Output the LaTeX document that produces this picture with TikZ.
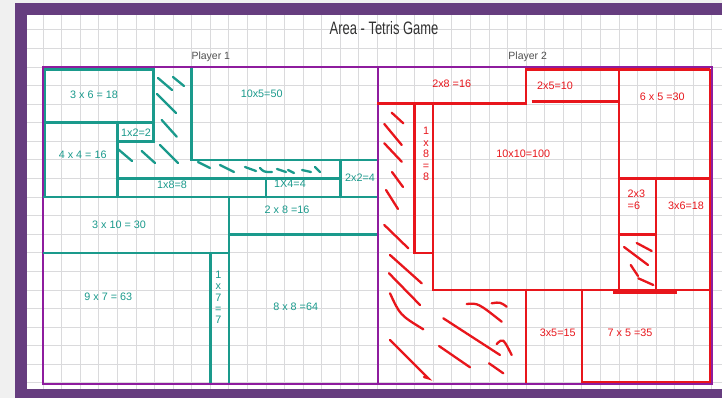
\documentclass[tikz,border=0pt]{standalone}
\usepackage{fontspec}
\setmainfont{Liberation Sans}
\definecolor{bggray}{RGB}{240,240,240}
\definecolor{framepurple}{RGB}{102,61,127}
\definecolor{gridgray}{RGB}{218,218,220}
\definecolor{boardpurple}{RGB}{142,28,158}
\definecolor{tealc}{RGB}{26,154,140}
\definecolor{redc}{RGB}{232,22,28}
\definecolor{titlegray}{RGB}{50,50,50}
\begin{document}
\begin{tikzpicture}[x=1pt,y=-1pt,
  tl/.style={draw=tealc,line width=2.6pt},
  rl/.style={draw=redc,line width=2.6pt},
  th/.style={draw=tealc,line width=2.3pt,line cap=round},
  rh/.style={draw=redc,line width=2.3pt,line cap=round},
  tlab/.style={text=tealc,font=\fontsize{10.8}{11.3}\selectfont,inner sep=0pt},
  rlab/.style={text=redc,font=\fontsize{10.8}{11.4}\selectfont,inner sep=0pt},
  plab/.style={text=titlegray!85,font=\fontsize{10.5}{12}\selectfont,inner sep=0pt}]
\useasboundingbox (0,0) rectangle (722,398);
\fill[bggray] (0,0) rectangle (722,398);
\fill[white] (15,3) rectangle (722,398);
\begin{scope}
\clip (27,15) rectangle (722,389);
\foreach \k in {-1,...,36} \draw[gridgray,line width=0.8pt] ({43+18.58*\k},15) -- ({43+18.58*\k},389);
\foreach \k in {-3,...,17} \draw[gridgray,line width=0.8pt] (27,{67+18.58*\k}) -- (722,{67+18.58*\k});
\end{scope}
\fill[framepurple] (15,3) rectangle (722,15);
\fill[framepurple] (15,3) rectangle (27,398);
\fill[framepurple] (15,389) rectangle (722,398);
% board
\draw[boardpurple,line width=2pt] (43,67) rectangle (712,384);
\draw[boardpurple,line width=2pt] (377.8,67) -- (377.8,384);
% titles
\node[text=titlegray,inner sep=0pt] (title) at (384,28) {\scalebox{0.72}[1]{\fontsize{18}{20}\selectfont Area - Tetris Game}};
\node[plab] (p1) at (210.8,57) {Player 1};
\node[plab] (p2) at (527.7,57) {Player 2};
% grid-unit scope
\begin{scope}[shift={(43,67)},x=18.58pt,y=-18.58pt]
% player 1 (teal)
\draw[tl] (0.1,0.12) rectangle (5.95,3);
\draw[tl] (0.1,3) rectangle (4,7);
\draw[tl] (4,3) rectangle (5.95,4);
\draw[tl] (8,0.05) -- (8,5) -- (18,5);
\draw[tl] (4,6) -- (16,6);
\draw[tl] (12,6) -- (12,7);
\draw[tl] (16,5) -- (16,7);
\draw[tl] (0,7) -- (18,7);
\draw[tl] (10,9) -- (18,9);
\draw[tl] (0,10) -- (10,10);
\draw[tl] (10,7) -- (10,17);
\draw[tl] (9,10) -- (9,17);
% player 2 (red)
\draw[rl] (18,1.95) -- (26,1.95) -- (26,0.12) -- (35.9,0.12);
\draw[rl] (26.3,1.85) -- (31,1.85);
\draw[rl] (31,0.12) -- (31,12);
\draw[rl] (35.9,0.12) -- (35.9,16.95) -- (29,16.95);
\draw[rl] (31,6) -- (35.9,6);
\draw[rl] (20,1.95) -- (20,10) -- (21,10);
\draw[rl] (21,1.95) -- (21,12) -- (35.9,12);
\draw[rl] (33,6) -- (33,12);
\draw[rl] (31,9) -- (33,9);
\draw[rl] (26,12) -- (26,17);
\draw[rl] (29,12) -- (29,17);
\draw[redc,line width=3.4pt] (30.7,12.1) -- (34.1,12.1);
\end{scope}
% teal hatching
\draw[th] (158,78) -- (172,90);
\draw[th] (173,77) -- (184,86);
\draw[th] (157,94) -- (176,113);
\draw[th] (161.7,120) -- (176.7,136.7);
\draw[th] (118.5,149.5) -- (132,161);
\draw[th] (141.7,151) -- (155,163);
\draw[th] (160,145) -- (178,163);
\draw[th] (198,162) -- (210,168);
\draw[th] (220,165) -- (234,172);
\draw[th] (245,167) .. controls (250,169) .. (256,171);
\draw[th] (260,168) .. controls (264,172) .. (272,172);
\draw[th] (277,169) -- (286,172);
\draw[th] (288,170) -- (294,173);
\draw[th] (302,170) -- (311,172);
\draw[th] (315,167) -- (320,172);
% red hatching
\draw[rh] (391.7,112.7) -- (403.3,123.3);
\draw[rh] (384.3,124) -- (401.7,145);
\draw[rh] (384.3,143.3) -- (401.7,161.7);
\draw[rh] (392,172) -- (403,187);
\draw[rh] (386,190) -- (398,209);
\draw[rh] (384.3,225) -- (408.3,248.3);
\draw[rh] (390,255) -- (421.7,283.3);
\draw[rh] (389,273.3) -- (420,305);
\draw[rh] (390,293.3) .. controls (400,315) .. (423.3,329.3);
\draw[rh] (390,340) -- (428.3,378.3) -- (424,377);
\draw[rh] (443.3,318.3) -- (500,355);
\draw[rh] (466.7,304) .. controls (478,303) .. (501.7,321.7);
\draw[rh] (491.7,303.3) .. controls (500,302) .. (506.7,306.7);
\draw[rh] (496.7,344) .. controls (503,338) .. (511.7,355);
\draw[rh] (439,346) -- (470,367.3);
\draw[rh] (489,363.3) -- (503.3,373.3);
\draw[rh] (636.7,243) -- (651.7,251);
\draw[rh] (624,247) -- (648,265);
\draw[rh] (630.7,265) -- (638,276);
\draw[rh] (638.3,278.3) -- (653.3,285);
% teal labels
\node[tlab] (t1) at (94,95) {3 x 6 = 18};
\node[tlab] (t2) at (261.7,93.3) {10x5=50};
\node[tlab] (t3) at (136,132.3) {1x2=2};
\node[tlab] (t4) at (82.7,154.3) {4 x 4 = 16};
\node[tlab] (t5) at (172,185) {1x8=8};
\node[tlab] (t6) at (290,184) {1X4=4};
\node[tlab] (t7) at (360,177.7) {2x2=4};
\node[tlab] (t8) at (287,210) {2 x 8 =16};
\node[tlab] (t9) at (119,225) {3 x 10 = 30};
\node[tlab] (t10) at (108.3,296.7) {9 x 7 = 63};
\node[tlab,align=center] (t11) at (218.3,297.5) {1\\x\\7\\=\\7};
\node[tlab] (t12) at (295.7,306.7) {8 x 8 =64};
% red labels
\node[rlab] (r1) at (451.7,83.3) {2x8 =16};
\node[rlab] (r2) at (555,86) {2x5=10};
\node[rlab] (r3) at (662.3,96.7) {6 x 5 =30};
\node[rlab,align=center] (r4) at (426,154) {1\\x\\8\\=\\8};
\node[rlab] (r5) at (523.3,154) {10x10=100};
\node[rlab,align=left,anchor=west,font=\fontsize{10.8}{12}\selectfont] (r6) at (627.5,199.5) {2x3\\=6};
\node[rlab] (r7) at (686,205.7) {3x6=18};
\node[rlab] (r8) at (557.7,332.7) {3x5=15};
\node[rlab] (r9) at (630,332.7) {7 x 5 =35};
\end{tikzpicture}
\end{document}
